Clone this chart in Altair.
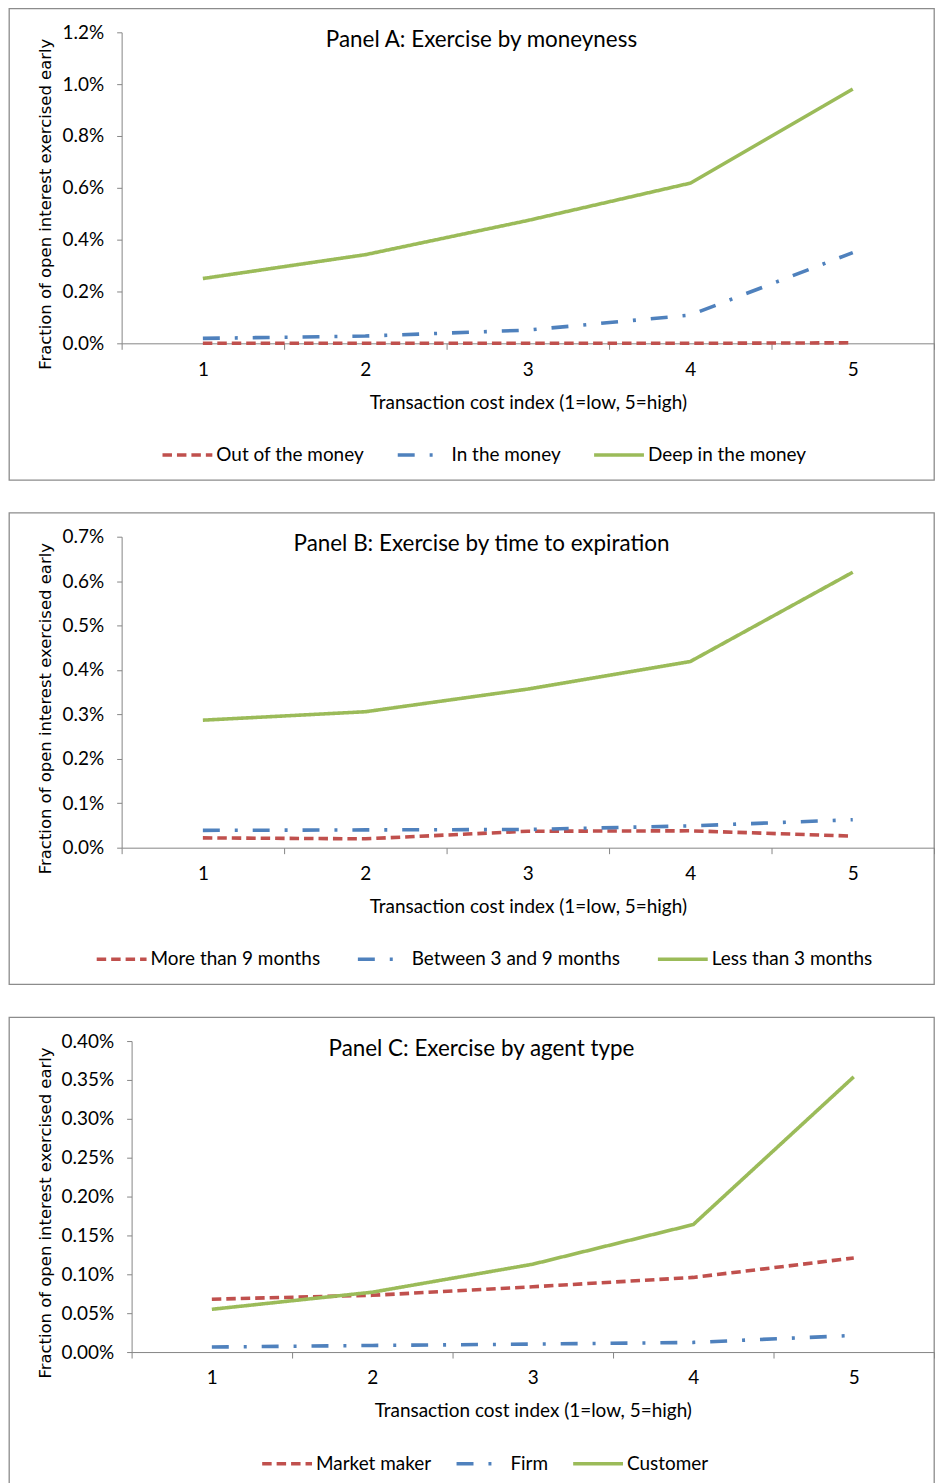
import altair as alt
import pandas as pd

# ---------------- data ----------------
x_index = [1, 2, 3, 4, 5]
x_title = "Transaction cost index (1=low, 5=high)"
y_title = "Fraction of open interest exercised early"

a_title = "Panel A: Exercise by moneyness"
a_series = ["Out of the money", "In the money", "Deep in the money"]
a_otm = [0.000, 0.000, 0.000, 0.000, 0.002]     # percent
a_itm = [0.019, 0.028, 0.051, 0.109, 0.350]
a_deep = [0.250, 0.342, 0.474, 0.618, 0.981]
a_ticks = [0.0, 0.2, 0.4, 0.6, 0.8, 1.0, 1.2]

b_title = "Panel B: Exercise by time to expiration"
b_series = ["More than 9 months", "Between 3 and 9 months", "Less than 3 months"]
b_more9 = [0.022, 0.020, 0.037, 0.038, 0.026]
b_3to9 = [0.039, 0.040, 0.041, 0.049, 0.063]
b_less3 = [0.287, 0.306, 0.357, 0.419, 0.620]
b_ticks = [0.0, 0.1, 0.2, 0.3, 0.4, 0.5, 0.6, 0.7]

c_title = "Panel C: Exercise by agent type"
c_series = ["Market maker", "Firm", "Customer"]
c_mm = [0.068, 0.073, 0.084, 0.096, 0.121]
c_firm = [0.0064, 0.0085, 0.0102, 0.0124, 0.0214]
c_cust = [0.055, 0.077, 0.113, 0.164, 0.354]
c_ticks = [0.0, 0.05, 0.10, 0.15, 0.20, 0.25, 0.30, 0.35, 0.40]

colors = ["#C0504D", "#4F81BD", "#9BBB59"]
dashes = [[9.5, 5], [17, 15, 3, 15], [1, 0]]

FONT = "Lato"


def panel(title, series, lists, ticks, fmt, x_start, legend_x, col_pad):
    rows = []
    for s, vals in zip(series, lists):
        for xi, v in zip(x_index, vals):
            rows.append({"idx": xi, "series": s, "value": v / 100.0})
    df = pd.DataFrame(rows)
    leg = alt.Legend(
        title=None, orient="none", legendX=legend_x, legendY=421,
        direction="horizontal", symbolType="stroke", symbolSize=2500,
        symbolStrokeWidth=3.5, labelFont=FONT, labelFontSize=19,
        labelColor="#000000", columnPadding=col_pad, labelOffset=2, labelLimit=400,
    )
    return alt.Chart(df).mark_line(strokeWidth=3.6).encode(
        x=alt.X(
            "idx:O",
            scale=alt.Scale(type="band", paddingInner=0, paddingOuter=0,
                            range=[x_start, 928]),
            axis=alt.Axis(
                title=x_title, tickBand="extent", labelAngle=0, offset=-137,
                tickSize=6, labelPadding=11, titleY=59, titleBaseline="middle",
                titleFontSize=19, labelFontSize=19,
            ),
        ),
        y=alt.Y(
            "value:Q",
            scale=alt.Scale(domain=[0, ticks[-1] / 100.0], range=[336, 24],
                            nice=False, zero=True),
            axis=alt.Axis(
                title=y_title, values=[t / 100.0 for t in ticks], format=fmt,
                offset=-x_start, tickSize=5, labelPadding=13,
                titleX=-(x_start + 8 - 45), titleY=196, titleBaseline="middle",
                titleFont="DejaVu Sans", titleFontSize=16.5, labelFontSize=19,
            ),
        ),
        color=alt.Color("series:N", sort=series,
                        scale=alt.Scale(domain=series, range=colors), legend=leg),
        strokeDash=alt.StrokeDash("series:N", sort=series,
                                  scale=alt.Scale(domain=series, range=dashes),
                                  legend=leg),
    ).properties(
        width=928, height=473,
        title=alt.TitleParams(title, font=FONT, fontSize=22.5, fontWeight="normal",
                              color="#000000", anchor="middle", frame="group",
                              offset=-54, baseline="middle", dx=10),
    )


pa = panel(a_title, a_series, [a_otm, a_itm, a_deep], a_ticks, ".1%", 113, 152, 26)
pb = panel(b_title, b_series, [b_more9, b_3to9, b_less3], b_ticks, ".1%", 113, 86, 30)
pc = panel(c_title, c_series, [c_mm, c_firm, c_cust], c_ticks, ".2%", 123, 252, 18)

chart = alt.vconcat(pa, pb, pc, spacing=31).resolve_scale(
    color="independent", strokeDash="independent", x="independent", y="independent",
).resolve_legend(
    color="independent", strokeDash="independent",
).properties(
    padding={"left": 0, "top": -3, "right": 0, "bottom": 0},
).configure_view(
    stroke="#8c8c8c", strokeWidth=1.3,
).configure_axis(
    grid=False, domainColor="#868686", tickColor="#868686",
    labelFont=FONT, labelColor="#000000",
    titleFont=FONT, titleFontWeight="normal", titleColor="#000000",
)

chart.save("out.html", embed_options={"renderer": "svg", "actions": False})
